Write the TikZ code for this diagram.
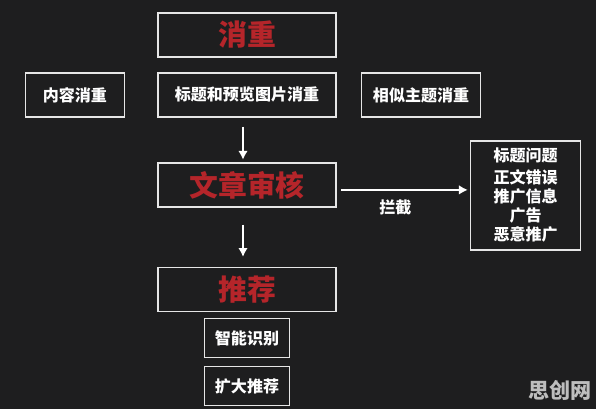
\documentclass[tikz,border=0pt]{standalone}
\usepackage{fontspec}
\newfontfamily\cjk{Noto Sans CJK SC}
\usepackage{tikz}
\usetikzlibrary{arrows.meta, positioning, backgrounds}

\definecolor{bgdark}{HTML}{1E1E1F}
\definecolor{titlered}{HTML}{B5252A}
\definecolor{framegray}{HTML}{E6E6E6}
\definecolor{markgray}{HTML}{BEBEBE}

\begin{document}
\begin{tikzpicture}[
        % styles for the boxes
        node distance=0.36cm and 0.8cm,
        mainbox/.style={
            rectangle,
            draw=framegray,
            line width=1.1pt,
            minimum width=4.45cm,
            minimum height=1.1cm,
            inner sep=0pt,
            text=titlered,
            font=\cjk\bfseries\fontsize{20.5}{24}\selectfont
        },
        subbox/.style={
            rectangle,
            draw=framegray,
            line width=1.1pt,
            minimum height=1.1cm,
            inner sep=0pt,
            text=white,
            font=\cjk\bfseries\fontsize{11.4}{13.5}\selectfont
        },
        smallbox/.style={
            subbox,
            minimum width=2.125cm,
            minimum height=0.975cm
        },
        arrow/.style={
            -{Latex[length=2.2mm, width=2.4mm]},
            draw=white,
            line width=1.3pt
        },
        edge_text/.style={
            text=white,
            font=\cjk\bfseries\fontsize{11.4}{13.5}\selectfont
        }
    ]

    % background and picture size
    \fill[bgdark] (0,0) rectangle (14.9,-10.225);
    \useasboundingbox (0,0) rectangle (14.9,-10.225);

    % --- 1. NODES ---

    % stage 1: dedup
    \node[mainbox] (dedup) at (6.175,-0.875) {消重};
    \node[subbox, minimum width=4.45cm, below=of dedup] (titleDedup) {标题和预览图片消重};
    \node[subbox, minimum width=2.475cm, left=0.8cm of titleDedup] (contentDedup) {内容消重};
    \node[subbox, minimum width=2.975cm, right=0.6cm of titleDedup] (topicDedup) {相似主题消重};

    % stage 2: review
    \node[mainbox, below=1.11cm of titleDedup] (review) {文章审核};
    \node[subbox, minimum width=2.75cm, minimum height=2.725cm, align=center,
          right=3.325cm of review, yshift=-0.26cm] (issues)
          {标题问题\\[2pt]正文错误\\推广信息\\广告\\恶意推广};

    % stage 3: recommend
    \node[mainbox, below=1.48cm of review] (recommend) {推荐};
    \node[smallbox, below=0.13cm of recommend] (smartId) {智能识别};
    \node[smallbox, below=0.19cm of smartId] (expand) {扩大推荐};

    % watermark
    \node[text=markgray, font=\cjk\bfseries\fontsize{15}{18}\selectfont] (mark) at (14.0,-9.75) {思创网};

    % --- 2. EDGES ---

    \draw[arrow, shorten <=0.225cm, shorten >=0.06cm]
        ([xshift=-0.1cm]titleDedup.south) -- ([xshift=-0.1cm]review.north);
    \draw[arrow, shorten <=0.425cm, shorten >=0.25cm]
        ([xshift=-0.1cm]review.south) -- ([xshift=-0.1cm]recommend.north);
    \draw[arrow, shorten <=0.1cm, shorten >=0.05cm]
        ([yshift=-0.125cm]review.east) -- ([yshift=-0.125cm]review.east -| issues.west)
        node[edge_text, pos=0.44, below=0.12cm] (block) {拦截};

\end{tikzpicture}
\end{document}
